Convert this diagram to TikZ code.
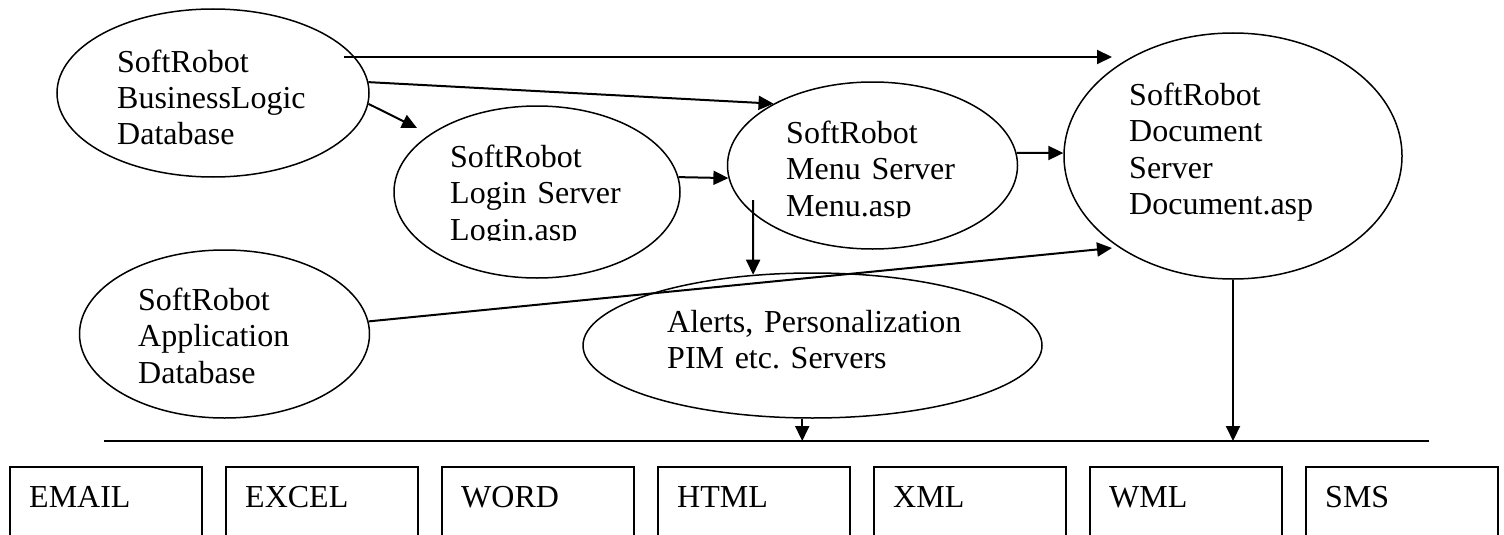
\documentclass[tikz,border=0pt]{standalone}
\usepackage{fontspec}
\setmainfont{Liberation Serif}
\usetikzlibrary{arrows.meta,shapes.geometric}
\frenchspacing
\begin{document}
\begin{tikzpicture}[x=1pt,y=-1pt,
  oval/.style={ellipse,draw,line width=1.5pt,inner sep=0pt},
  lbl/.style={anchor=base west,inner sep=0pt,text width=400pt,align=left,font=\fontsize{32}{36.5}\selectfont\frenchspacing},
  arr/.style={line width=2pt,-{Triangle[length=15pt,width=14pt]}},
  outbox/.style={draw,line width=1.7pt,minimum width=192pt,minimum height=120pt,anchor=north west,inner sep=0pt},
  boxtxt/.style={anchor=base west,inner sep=0pt,font=\fontsize{32}{36.5}\selectfont}]
\useasboundingbox (0,0) rectangle (1504,535);
\clip (0,0) rectangle (1504,535);
% ellipses
\node[oval,minimum width=312pt,minimum height=168pt] (bl) at (213,93) {};
\node[oval,minimum width=286pt,minimum height=172pt] (login) at (537,192) {};
\node[oval,minimum width=290pt,minimum height=167pt] (menu) at (872.5,165.5) {};
\node[oval,minimum width=338pt,minimum height=246pt] (doc) at (1233,156) {};
\node[oval,minimum width=290pt,minimum height=168pt] (app) at (224.5,334) {};
\node[oval,minimum width=459pt,minimum height=145pt] (alerts) at (812.5,345.5) {};
% labels
\node[lbl] (lbl1) at (117,72) {SoftRobot\\BusinessLogic\\Database};
\begin{scope}
  \clip (380,100) rectangle (700,240.5);
  \node[lbl] (lbl2) at (450,167) {SoftRobot\\Login Server\\Login.asp};
\end{scope}
\begin{scope}
  \clip (740,90) rectangle (1010,217.5);
  \node[lbl] (lbl3) at (786,143) {SoftRobot\\Menu Server\\Menu.asp};
\end{scope}
\node[lbl] (lbl4) at (1129,105) {SoftRobot\\Document\\Server\\Document.asp};
\node[lbl] (lbl5) at (138,310) {SoftRobot\\Application\\Database};
\node[lbl] (lbl6) at (667,332) {Alerts, Personalization\\PIM etc. Servers};
% connectors
\coordinate (c1s) at (344,57);
\coordinate (c1e) at (1112,57);
\draw[arr] (c1s) -- (c1e);
\draw[arr] (bl.4) -- (menu.148);
\coordinate (c3e) at (417,128);
\draw[arr] (bl.-4) -- (c3e);
\draw[arr] (login.6) -- (menu.185);
\draw[arr] (menu.5) -- (doc.179);
\coordinate (c6s) at (753,200);
\draw[arr] (c6s) -- (alerts.130);
\coordinate (c7e) at (1112,248);
\draw[arr] (app.5) -- (c7e);
\coordinate (hlL) at (104,441);
\coordinate (hlR) at (1429,441);
\draw[line width=1.7pt] (hlL) -- (hlR);
\draw[arr] (alerts.262) -- (alerts.262 |- hlL);
\draw[arr] (doc.south) -- (doc.south |- hlL);
% output boxes
\foreach \i/\t in {0/EMAIL,1/EXCEL,2/WORD,3/HTML,4/XML,5/WML,6/SMS}{
  \node[outbox] (b\i) at (9+216*\i,466) {};
  \node[boxtxt] (t\i) at (29+216*\i,507) {\t};
}
\end{tikzpicture}
\end{document}
